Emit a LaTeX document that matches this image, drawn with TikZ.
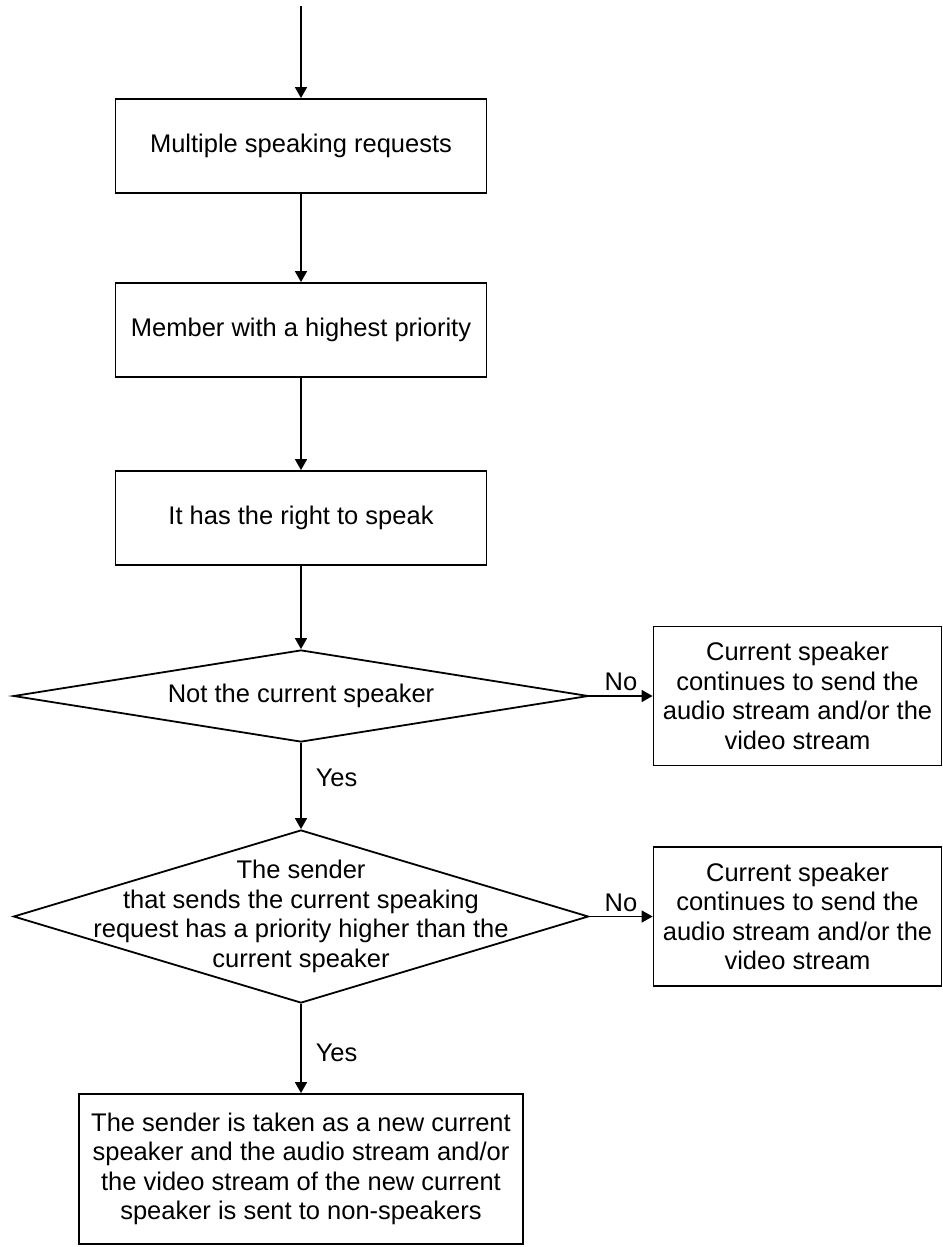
\documentclass[tikz,border=0pt]{standalone}
\usepackage{fontspec}
\setmainfont{Liberation Sans}
\usetikzlibrary{arrows.meta, positioning, shapes.geometric}
\newcommand{\chartfont}{\fontsize{12.75}{14.75}\selectfont}
\tikzset{
  proc/.style={draw, line width=0.9pt, minimum width=185.5pt, minimum height=47pt,
               align=center, inner sep=4pt, font=\chartfont},
  note/.style={draw, line width=0.9pt, minimum width=144pt, minimum height=69.5pt,
               align=center, inner sep=3pt, font=\chartfont},
  decision/.style={draw, diamond, line width=0.9pt, minimum width=287.5pt, aspect=8,
                   inner sep=0pt, align=center, font=\chartfont},
  flow/.style={-{Triangle[length=5.5pt, width=6pt]}, line width=0.8pt},
  tag/.style={font=\chartfont, inner sep=2pt},
}

\begin{document}
\begin{tikzpicture}[x=0.5pt, y=-0.5pt]
  \useasboundingbox (0,0) rectangle (942,1247);
  \coordinate (start) at (301,6);
  \node (multi)  [proc] at (301,146) {Multiple speaking requests};
  \node (member) [proc, below=44.1pt of multi] {Member with a highest priority};
  \node (speak)  [proc, below=46.1pt of member] {It has the right to speak};
  \node (notcur) [decision, minimum height=46pt, below=41.6pt of speak] {Not the current speaker};
  \node (keep1)  [note, right=31.6pt of notcur] {Current speaker\\continues to send the\\audio stream and/or the\\video stream};
  \node (higher) [decision, minimum height=86.5pt, below=43.1pt of notcur] {};
  \node (highertxt) [font=\chartfont, align=center] at (higher) {The sender\\that sends the current speaking\\request has a priority higher than the\\current speaker};
  \node (keep2)  [note, right=31.6pt of higher] {Current speaker\\continues to send the\\audio stream and/or the\\video stream};
  \node (newspk) [proc, minimum width=222pt, minimum height=75pt, below=44.6pt of higher] {The sender is taken as a new current\\speaker and the audio stream and/or\\the video stream of the new current\\speaker is sent to non-speakers};
  \draw[flow] (start) -- (multi);
  \draw[flow] (multi) -- (member);
  \draw[flow] (member) -- (speak);
  \draw[flow] (speak) -- (notcur);
  \draw[flow] (notcur) -- node[tag, above] {No} (keep1);
  \draw[flow] (notcur) -- node[tag, right=5pt, pos=0.4] {Yes} (higher);
  \draw[flow] (higher) -- node[tag, above] {No} (keep2);
  \draw[flow] (higher) -- node[tag, right=5pt, pos=0.55] {Yes} (newspk);
\end{tikzpicture}
\end{document}
